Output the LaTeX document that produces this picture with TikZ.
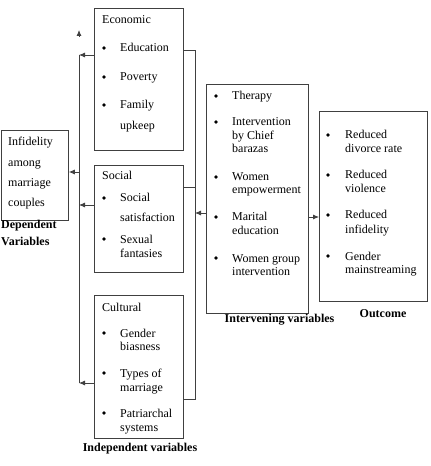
\documentclass[tikz,border=0pt]{standalone}
\usepackage{fontspec}
\setmainfont{Liberation Serif}
\usetikzlibrary{arrows.meta}

\tikzset{
  box/.style={draw=black!75, line width=0.8bp, anchor=north west, inner sep=0pt},
  txt/.style={anchor=base west, inner sep=0pt, font=\fontsize{12bp}{14bp}\selectfont},
  lbl/.style={anchor=base, inner sep=0pt, font=\fontsize{12bp}{14bp}\selectfont\bfseries},
  bul/.style={circle, fill=black, inner sep=0pt, minimum size=3.8bp},
  ln/.style={draw=black!75, line width=0.8bp},
  arr/.style={ln, -{Latex[length=6bp,width=5bp]}},
}

\begin{document}
\begin{tikzpicture}[x=1bp,y=-1bp]
\useasboundingbox (0,0) rectangle (430,466);

% boxes
\node[box, minimum width=67bp, minimum height=90bp] (dep) at (1,130) {};
\node[box, minimum width=89bp, minimum height=142bp] (econ) at (94,8) {};
\node[box, minimum width=89bp, minimum height=107bp] (social) at (94,165) {};
\node[box, minimum width=89bp, minimum height=143bp] (cult) at (94,295) {};
\node[box, minimum width=102bp, minimum height=229bp] (interv) at (206,84) {};
\node[box, minimum width=108bp, minimum height=190bp] (outc) at (319,111) {};

% dependent variable
\foreach \y/\t [count=\i] in {146/Infidelity,167/among,187/marriage,207/couples}
  \node[txt] (dep-\i) at (8,\y) {\t};
\node[lbl, anchor=base west] (dep-l1) at (1,229) {Dependent};
\node[lbl, anchor=base west] (dep-l2) at (1,245) {Variables};

% economic
\node[txt] (econ-t) at (102,24) {Economic};
\foreach \y/\t [count=\i] in {52/Education,81/Poverty,109/Family,130/upkeep}
  \node[txt] (econ-\i) at (120,\y) {\t};
\foreach \y [count=\i] in {52,81,109}
  \node[bul] (econ-b\i) at (104,\y-4) {};

% social
\node[txt] (social-t) at (102,180) {Social};
\foreach \y/\t [count=\i] in {202/Social,222/satisfaction,243/Sexual,257/fantasies}
  \node[txt] (social-\i) at (120,\y) {\t};
\foreach \y [count=\i] in {202,243}
  \node[bul] (social-b\i) at (104,\y-4) {};

% cultural
\node[txt] (cult-t) at (102,311) {Cultural};
\foreach \y/\t [count=\i] in {337/Gender,350/biasness,377/Types of,391/marriage,417/Patriarchal,431/systems}
  \node[txt] (cult-\i) at (120,\y) {\t};
\foreach \y [count=\i] in {337,377,417}
  \node[bul] (cult-b\i) at (104,\y-4) {};

\node[lbl] (indep-l) at (140,451) {Independent variables};

% intervening
\foreach \y/\t [count=\i] in {100/Therapy,126/Intervention,140/by Chief,153/barazas,181/Women,194/empowerment,221/Marital,234/education,262/Women group,275/intervention}
  \node[txt] (interv-\i) at (232,\y) {\t};
\foreach \y [count=\i] in {100,126,181,221,262}
  \node[bul] (interv-b\i) at (216,\y-4) {};
\node[lbl] (interv-l) at (279.5,322) {Intervening variables};

% outcome
\foreach \y/\t [count=\i] in {139/Reduced,153/divorce rate,179/Reduced,193/violence,219/Reduced,233/infidelity,260/Gender,273/mainstreaming}
  \node[txt] (outc-\i) at (345,\y) {\t};
\foreach \y [count=\i] in {139,179,219,260}
  \node[bul] (outc-b\i) at (328,\y-4) {};
\node[lbl] (outc-l) at (383,317) {Outcome};

% left trunk
\coordinate (trk-top) at (79,55);
\coordinate (trk-d) at (79,172);
\coordinate (trk-s) at (79,205);
\coordinate (trk-bot) at (79,383);
\coordinate (tip-a) at (79,36);
\coordinate (tip) at (79,30);
\draw[ln] (trk-top) -- (trk-bot);
\draw[arr] (econ.west |- trk-top) -- (trk-top);
\draw[arr] (social.west |- trk-s) -- (trk-s);
\draw[arr] (cult.west |- trk-bot) -- (trk-bot);
\draw[arr] (trk-d) -- (dep.east |- trk-d);
\draw[arr] (tip-a) -- (tip);

% right bracket
\coordinate (brk-top) at (195,50);
\coordinate (brk-s) at (195,187);
\coordinate (brk-i) at (195,213);
\coordinate (brk-bot) at (195,399);
\coordinate (io) at (313,217);
\draw[ln] (econ.east |- brk-top) -- (brk-top) -- (brk-bot) -- (cult.east |- brk-bot);
\draw[ln] (social.east |- brk-s) -- (brk-s);
\draw[arr] (interv.west |- brk-i) -- (brk-i);
\draw[arr] (interv.east |- io) -- (outc.west |- io);
\end{tikzpicture}
\end{document}
